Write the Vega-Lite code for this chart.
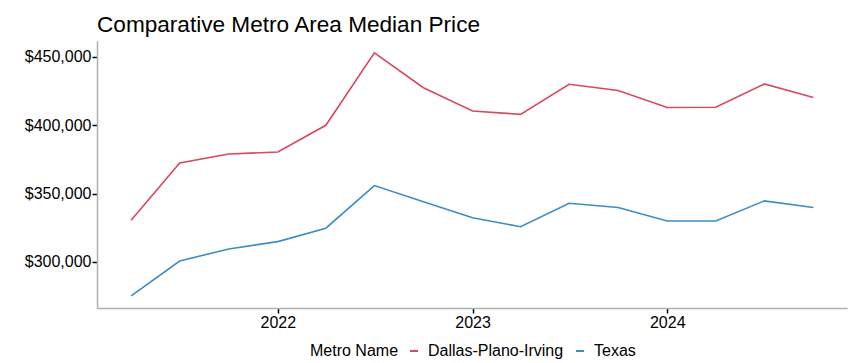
{
  "$schema": "https://vega.github.io/schema/vega-lite/v6.json",
  "autosize": "none",
  "width": 750,
  "height": 267,
  "padding": {"left": 97, "top": 41, "right": 2, "bottom": 55},
  "background": "white",
  "title": {
    "text": "Comparative Metro Area Median Price",
    "anchor": "start",
    "frame": "group",
    "font": "Liberation Sans",
    "fontSize": 22.6,
    "fontWeight": "normal",
    "color": "black",
    "offset": 4
  },
  "data": {
    "values": [
      {"date": "2021-04-01", "metro": "Dallas-Plano-Irving", "price": 330500},
      {"date": "2021-07-01", "metro": "Dallas-Plano-Irving", "price": 372500},
      {"date": "2021-10-01", "metro": "Dallas-Plano-Irving", "price": 379000},
      {"date": "2022-01-01", "metro": "Dallas-Plano-Irving", "price": 380500},
      {"date": "2022-04-01", "metro": "Dallas-Plano-Irving", "price": 400000},
      {"date": "2022-07-01", "metro": "Dallas-Plano-Irving", "price": 453000},
      {"date": "2022-10-01", "metro": "Dallas-Plano-Irving", "price": 427500},
      {"date": "2023-01-01", "metro": "Dallas-Plano-Irving", "price": 410500},
      {"date": "2023-04-01", "metro": "Dallas-Plano-Irving", "price": 408000},
      {"date": "2023-07-01", "metro": "Dallas-Plano-Irving", "price": 430000},
      {"date": "2023-10-01", "metro": "Dallas-Plano-Irving", "price": 425500},
      {"date": "2024-01-01", "metro": "Dallas-Plano-Irving", "price": 413000},
      {"date": "2024-04-01", "metro": "Dallas-Plano-Irving", "price": 413200},
      {"date": "2024-07-01", "metro": "Dallas-Plano-Irving", "price": 430300},
      {"date": "2024-10-01", "metro": "Dallas-Plano-Irving", "price": 420300},
      {"date": "2021-04-01", "metro": "Texas", "price": 275100},
      {"date": "2021-07-01", "metro": "Texas", "price": 300700},
      {"date": "2021-10-01", "metro": "Texas", "price": 309500},
      {"date": "2022-01-01", "metro": "Texas", "price": 314900},
      {"date": "2022-04-01", "metro": "Texas", "price": 324700},
      {"date": "2022-07-01", "metro": "Texas", "price": 355900},
      {"date": "2022-10-01", "metro": "Texas", "price": 344100},
      {"date": "2023-01-01", "metro": "Texas", "price": 332400},
      {"date": "2023-04-01", "metro": "Texas", "price": 325800},
      {"date": "2023-07-01", "metro": "Texas", "price": 343000},
      {"date": "2023-10-01", "metro": "Texas", "price": 339800},
      {"date": "2024-01-01", "metro": "Texas", "price": 330000},
      {"date": "2024-04-01", "metro": "Texas", "price": 330000},
      {"date": "2024-07-01", "metro": "Texas", "price": 344700},
      {"date": "2024-10-01", "metro": "Texas", "price": 339800}
    ]
  },
  "mark": {"type": "line", "strokeWidth": 1.6},
  "encoding": {
    "x": {
      "field": "date",
      "type": "temporal",
      "scale": {"domain": ["2021-01-27", "2024-12-03"], "nice": false},
      "axis": {
        "title": null,
        "format": "%Y",
        "values": ["2022-01-01", "2023-01-01", "2024-01-01"],
        "grid": false,
        "domainColor": "#b0b0b0",
        "domainWidth": 1.5,
        "tickColor": "black",
        "tickSize": 5,
        "tickWidth": 1.5,
        "labelFont": "Liberation Sans",
        "labelFontSize": 16,
        "labelColor": "black",
        "labelPadding": 1
      }
    },
    "y": {
      "field": "price",
      "type": "quantitative",
      "scale": {"domain": [266300, 461700], "nice": false, "zero": false},
      "axis": {
        "title": null,
        "values": [300000, 350000, 400000, 450000],
        "format": "$,.0f",
        "grid": false,
        "domainColor": "#b0b0b0",
        "domainWidth": 1.5,
        "tickColor": "black",
        "tickSize": 5,
        "tickWidth": 1.5,
        "labelFont": "Liberation Sans",
        "labelFontSize": 16,
        "labelColor": "black",
        "labelPadding": 1
      }
    },
    "color": {
      "field": "metro",
      "type": "nominal",
      "scale": {"domain": ["Dallas-Plano-Irving", "Texas"], "range": ["#d9485e", "#3b8dc4"]},
      "legend": {
        "title": "Metro Name",
        "orient": "none",
        "legendX": 213,
        "legendY": 302,
        "direction": "horizontal",
        "titleOrient": "left",
        "titleFont": "Liberation Sans",
        "titleFontSize": 16,
        "titleFontWeight": "normal",
        "titleColor": "black",
        "titleAnchor": "middle",
        "titleBaseline": "middle",
        "titlePadding": 7,
        "labelFont": "Liberation Sans",
        "labelFontSize": 16,
        "labelColor": "black",
        "symbolType": "stroke",
        "symbolSize": 64,
        "symbolStrokeWidth": 2,
        "columnPadding": 8,
        "labelOffset": 6
      }
    }
  },
  "config": {
    "view": {"stroke": null}
  }
}
